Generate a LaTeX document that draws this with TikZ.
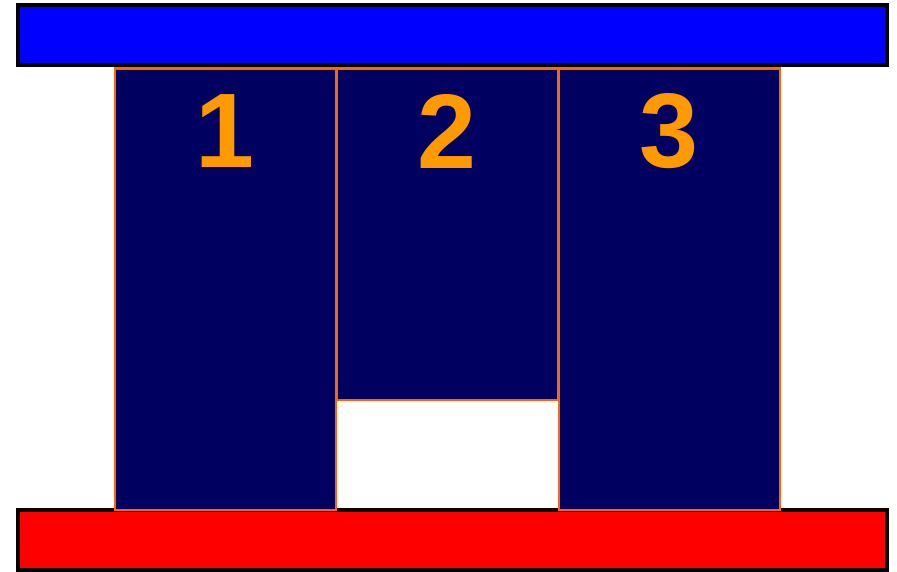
\documentclass[tikz,border=0pt]{standalone}
\usepackage{fontspec}
\setmainfont{Liberation Sans}
\usetikzlibrary{positioning}
\definecolor{barblue}{RGB}{0,0,255}
\definecolor{barred}{RGB}{255,0,0}
\definecolor{colnavy}{RGB}{0,0,96}
\definecolor{coledge}{RGB}{255,102,0}
\definecolor{numorange}{RGB}{255,153,0}
\tikzset{
  bar/.style={draw=black, line width=4pt, inner sep=0pt, minimum width=869pt, minimum height=60pt},
  pillar/.style={draw=coledge, fill=colnavy, line width=2.4pt, inner sep=0pt, minimum width=221pt, anchor=north west},
  num/.style={font=\fontsize{106}{106}\selectfont\bfseries, text=numorange},
}
\begin{document}
\begin{tikzpicture}[x=1pt, y=-1pt]
\useasboundingbox (0,0) rectangle (897,572);
\node[bar, fill=barblue] (top) at (452,35) {};
\node[bar, fill=barred] (bottom) at (452,540) {};
% pillars
\node[pillar, minimum height=441pt] (p1) at (113.5,67.5) {};
\node[pillar, minimum height=331pt] (p2) at (335.5,67.5) {};
\node[pillar, minimum height=441pt] (p3) at (557.5,67.5) {};
\foreach \i in {1,2,3}
  \node[num] (n\i) at ([yshift=-64pt]p\i.north) {\i};
\end{tikzpicture}
\end{document}
